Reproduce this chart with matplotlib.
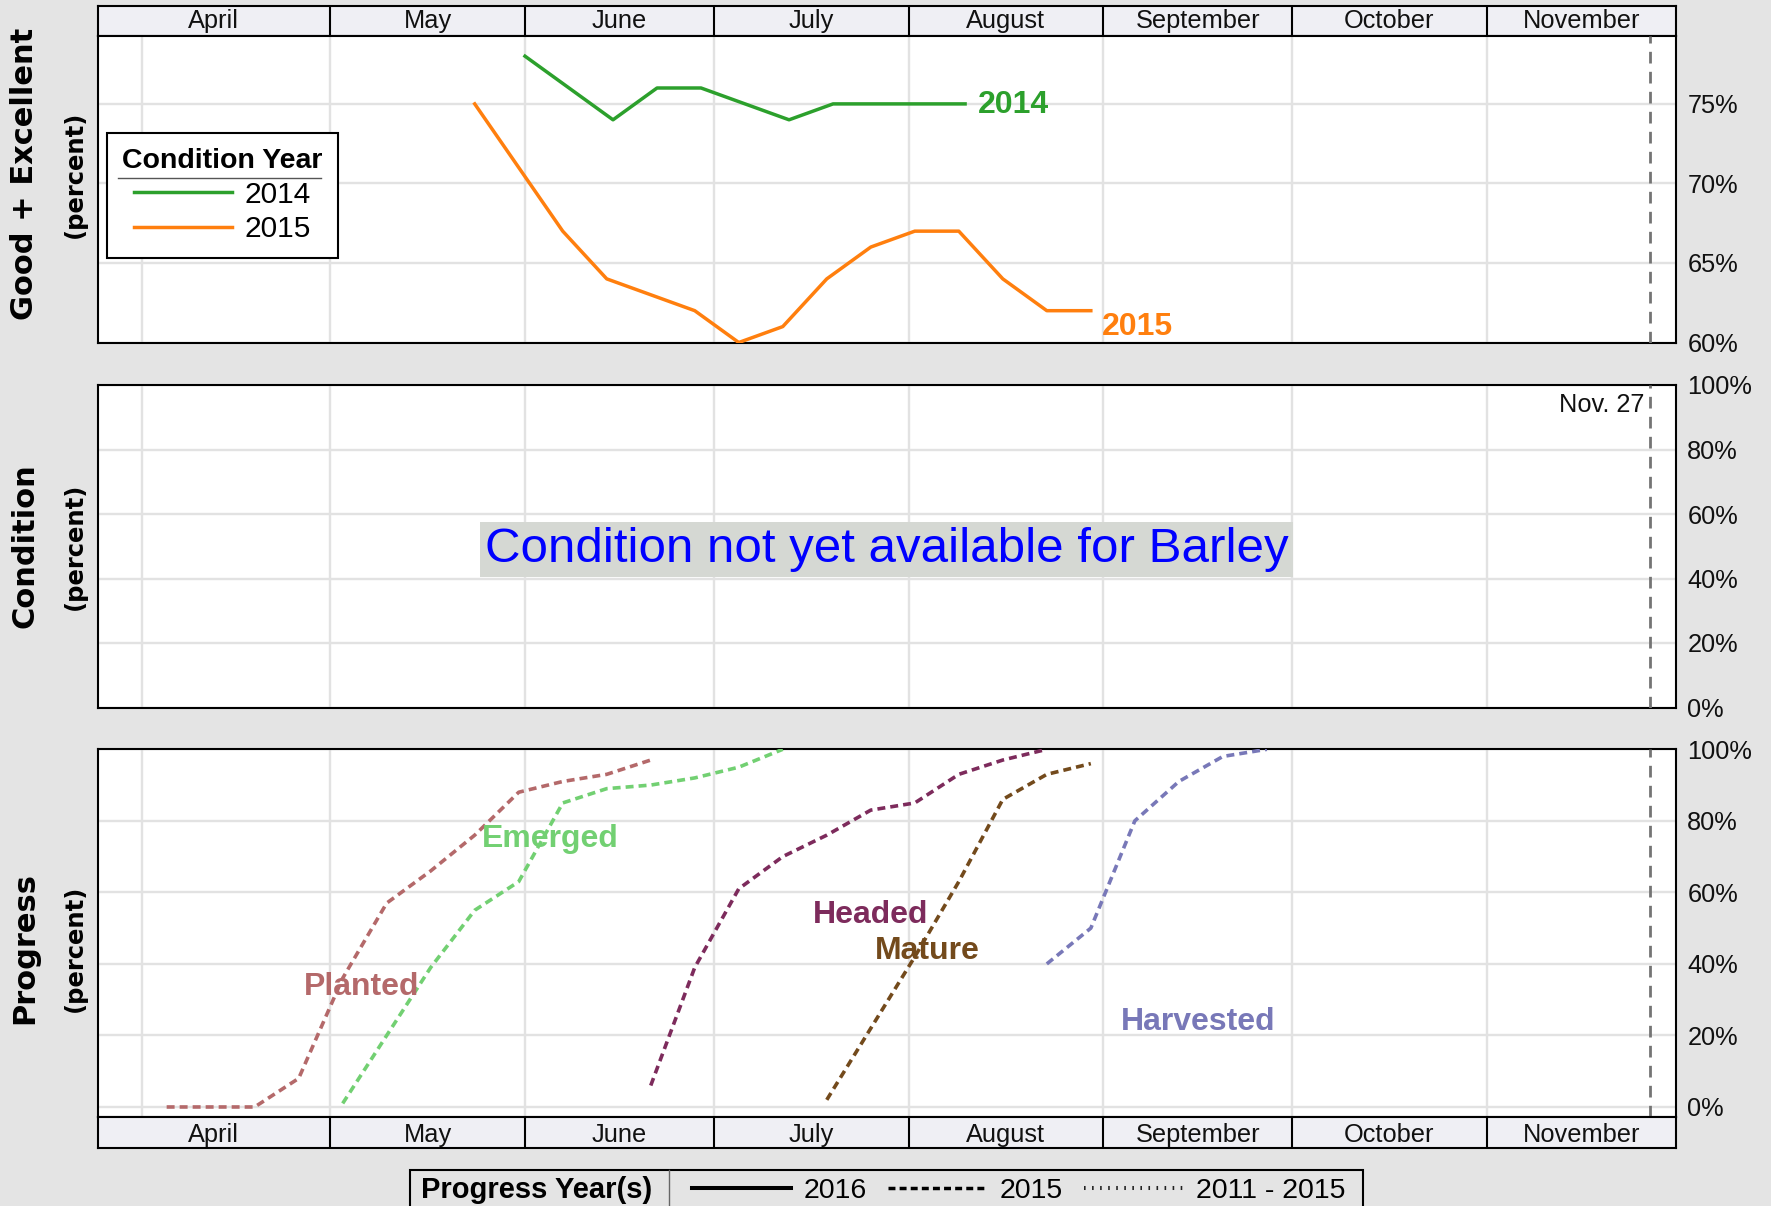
import datetime as dt
import matplotlib
matplotlib.use("Agg")
import matplotlib.pyplot as plt
import matplotlib.dates as mdates
from matplotlib.lines import Line2D
from matplotlib.patches import Rectangle

plt.rcParams['font.family'] = ['Liberation Sans', 'DejaVu Sans']

W, H, DPI = 1771, 1206, 100

# ---------------- data ----------------
months = ["April", "May", "June", "July", "August", "September", "October", "November"]
month_starts = ["04-01", "05-01", "06-01", "07-01", "08-01", "09-01", "10-01", "11-01"]
x_start, x_end = "03-25", "12-01"
marker_date, marker_label = "11-27", "Nov. 27"

cond_years = ["2014", "2015"]
cond_2014_dates = ["06-01", "06-08", "06-15", "06-22", "06-29", "07-06", "07-13",
                   "07-20", "07-27", "08-03", "08-10"]
cond_2014_vals = [78, 76, 74, 76, 76, 75, 74, 75, 75, 75, 75]
cond_2015_dates = ["05-24", "05-31", "06-07", "06-14", "06-21", "06-28", "07-05", "07-12",
                   "07-19", "07-26", "08-02", "08-09", "08-16", "08-23", "08-30"]
cond_2015_vals = [75, 71, 67, 64, 63, 62, 60, 61, 64, 66, 67, 67, 64, 62, 62]

planted_dates = ["04-05", "04-12", "04-19", "04-26", "05-03", "05-10", "05-17", "05-24",
                 "05-31", "06-07", "06-14", "06-21"]
planted_vals = [0, 0, 0, 8, 36, 57, 66, 76, 88, 91, 93, 97]
emerged_dates = ["05-03", "05-10", "05-17", "05-24", "05-31", "06-07", "06-14", "06-21",
                 "06-28", "07-05", "07-12"]
emerged_vals = [1, 20, 39, 55, 63, 85, 89, 90, 92, 95, 100]
headed_dates = ["06-21", "06-28", "07-05", "07-12", "07-19", "07-26", "08-02", "08-09",
                "08-16", "08-23"]
headed_vals = [6, 39, 61, 70, 76, 83, 85, 93, 97, 100]
mature_dates = ["07-19", "07-26", "08-02", "08-09", "08-16", "08-23", "08-30"]
mature_vals = [2, 22, 42, 63, 86, 93, 96]
harvested_dates = ["08-23", "08-30", "09-06", "09-13", "09-20", "09-27"]
harvested_vals = [40, 50, 80, 91, 98, 100]

stage_names = ["Planted", "Emerged", "Headed", "Mature", "Harvested"]
stage_colors = ["#b4696a", "#72d072", "#7d2b5c", "#734a1c", "#7878b8"]
stage_label_pos = [("05-06", 31.3), ("06-05", 72.6), ("07-26", 51.5), ("08-04", 41.5), ("09-16", 21.5)]

progress_years = ["2016", "2015", "2011 - 2015"]

cond_ticks = [60, 65, 70, 75]
pct_ticks = [0, 20, 40, 60, 80, 100]


def d(s):
    return mdates.date2num(dt.datetime.strptime("2016-" + s, "%Y-%m-%d"))


def dl(lst):
    return [d(s) for s in lst]


# ---------------- figure ----------------
fig = plt.figure(figsize=(W / DPI, H / DPI), dpi=DPI, facecolor="#e4e4e4")


def ax_px(x0, y0, x1, y1):
    return fig.add_axes([x0 / W, 1 - y1 / H, (x1 - x0) / W, (y1 - y0) / H])


LEFT, RIGHT = 97.5, 1675.5
GRID = "#e2e2e2"
DASH15 = (0, (2.2, 1.4))
DASH_LW = 2.6

ax_ts = ax_px(LEFT, 5.7, RIGHT, 35.5)
ax_top = ax_px(LEFT, 35.5, RIGHT, 342.5)
ax_mid = ax_px(LEFT, 385, RIGHT, 707.5)
ax_bot = ax_px(LEFT, 749.3, RIGHT, 1117)
ax_bs = ax_px(LEFT, 1117, RIGHT, 1147.5)

xmin, xmax = d(x_start), d(x_end)


def style_panel(ax, ylim, yticks):
    ax.set_facecolor("white")
    ax.set_xlim(xmin, xmax)
    ax.set_ylim(*ylim)
    ax.set_xticks(dl(month_starts))
    ax.set_yticks(yticks)
    ax.set_yticklabels([f"{t}%" for t in yticks])
    ax.yaxis.tick_right()
    ax.tick_params(axis="x", length=0, labelbottom=False)
    ax.tick_params(axis="y", length=0, pad=8.5, labelsize=18.3, labelcolor="#111111")
    ax.grid(True, color=GRID, lw=1.7, zorder=0)
    ax.set_axisbelow(True)
    for sp in ax.spines.values():
        sp.set_linewidth(1.5)
        sp.set_color("black")
    ax.axvline(d(marker_date), color="#747474", lw=2.0, ls=(0, (4.2, 3.0)), zorder=4)


def style_strip(ax, baseline_y):
    ax.set_facecolor("#efeff4")
    ax.set_xlim(xmin, xmax)
    ax.set_ylim(0, 1)
    ax.set_xticks([])
    ax.set_yticks([])
    for sp in ax.spines.values():
        sp.set_linewidth(1.5)
        sp.set_color("black")
    starts = dl(month_starts)
    ends = starts[1:] + [xmax]
    for s in starts[1:]:
        ax.axvline(s, color="black", lw=1.5)
    cells = [xmin] + starts[1:]
    for name, s, e in zip(months, cells, ends):
        c = (s + e) / 2
        ax.text(c, baseline_y, name, ha="center", va="baseline", fontsize=18.3, color="#111111")


style_strip(ax_ts, 0.24)
style_strip(ax_bs, 0.19)

# ---- top: Good + Excellent ----
style_panel(ax_top, (60, 79.3), cond_ticks)
l14, = ax_top.plot(dl(cond_2014_dates), cond_2014_vals, color="#2ca02c", lw=2.5, zorder=3)
l15, = ax_top.plot(dl(cond_2015_dates), cond_2015_vals, color="#ff7f0e", lw=2.5, zorder=3)
ax_top.text(d(cond_2014_dates[-1]) + 2.1, 74.45, cond_years[0], color="#2ca02c",
            fontsize=23, fontweight="bold", ha="left", va="baseline")
ax_top.text(d(cond_2015_dates[-1]) + 1.7, 60.5, cond_years[1], color="#ff7f0e",
            fontsize=23, fontweight="bold", ha="left", va="baseline", clip_on=False)

leg = ax_top.legend(handles=[l14, l15], labels=cond_years, title="Condition Year",
                    loc="upper left", bbox_to_anchor=(107.3 / W, 1 - 133.3 / H),
                    bbox_transform=fig.transFigure, borderaxespad=0, frameon=True,
                    fancybox=False, framealpha=1, edgecolor="black", fontsize=21.5,
                    title_fontproperties={"weight": "bold", "size": 20.5},
                    handlelength=3.3, handletextpad=0.42, borderpad=0.5,
                    labelspacing=0.22)
leg.get_frame().set_linewidth(1.5)
for t in leg.get_texts():
    t.set_color("black")
fig.add_artist(Line2D([118 / W, 321 / W], [1 - 177.7 / H] * 2, transform=fig.transFigure,
                      color="#555555", lw=1.0, zorder=10))

# ---- middle: Condition ----
style_panel(ax_mid, (0, 100), pct_ticks)
ax_mid.text(0.5, 0.49, "Condition not yet available for Barley", transform=ax_mid.transAxes,
            ha="center", va="center", fontsize=35.5, color="#0000ff",
            bbox=dict(boxstyle="square,pad=0.1", facecolor="#d5d8d3", edgecolor="none"))
ax_mid.text(d(marker_date) - 1.0, 97.5, marker_label, ha="right", va="top", fontsize=18.3,
            color="#111111")

# ---- bottom: Progress ----
style_panel(ax_bot, (-2.8, 100), pct_ticks)
stage_data = [(planted_dates, planted_vals), (emerged_dates, emerged_vals),
              (headed_dates, headed_vals), (mature_dates, mature_vals),
              (harvested_dates, harvested_vals)]
for (ds, vs), name, col, (lx, ly) in zip(stage_data, stage_names, stage_colors, stage_label_pos):
    ax_bot.plot(dl(ds), vs, color=col, lw=DASH_LW, ls=DASH15, zorder=3)
    ax_bot.text(d(lx), ly, name, color=col, fontsize=23, fontweight="bold",
                ha="center", va="baseline", zorder=5)

# ---- y labels ----
for name, yc in [("Good + Excellent", 174), ("Condition", 546), ("Progress", 948)]:
    fig.text(25 / W, 1 - yc / H, name, rotation=90, ha="center", va="center",
             fontsize=22, fontweight="bold", family="DejaVu Sans")
    fig.text(75 / W, 1 - yc / H, "(percent)", rotation=90, ha="center", va="center",
             fontsize=17.5, fontweight="bold", family="DejaVu Sans")

# ---- bottom legend ----
fig.add_artist(Rectangle((410 / W, 1 - 1220 / H), (1362.7 - 410) / W, (1220 - 1170) / H,
                         transform=fig.transFigure, fill=False, edgecolor="black", lw=1.5))
fig.add_artist(Line2D([669.3 / W] * 2, [1 - 1170 / H, 0], transform=fig.transFigure,
                      color="#666666", lw=1.0))
fig.text(420.7 / W, 1 - 1190.5 / H, "Progress Year(s)", ha="left", va="center",
         fontsize=21, fontweight="bold")
h_solid = Line2D([], [], color="black", lw=2.9)
h_dash = Line2D([], [], color="black", lw=2.5, ls=(0, (2.0, 1.2)))
h_dot = Line2D([], [], color="#222222", lw=2.9, ls=(0, (0.4, 1.6)))
fig.legend(handles=[h_solid, h_dash, h_dot], labels=progress_years, ncol=3,
           loc="center left", bbox_to_anchor=(691.7 / W, 1 - 1190.5 / H),
           frameon=False, fontsize=20.5, handlelength=3.5, handletextpad=0.42,
           columnspacing=0.75, borderpad=0, borderaxespad=0)

fig.savefig("out.png", dpi=DPI, facecolor=fig.get_facecolor())
